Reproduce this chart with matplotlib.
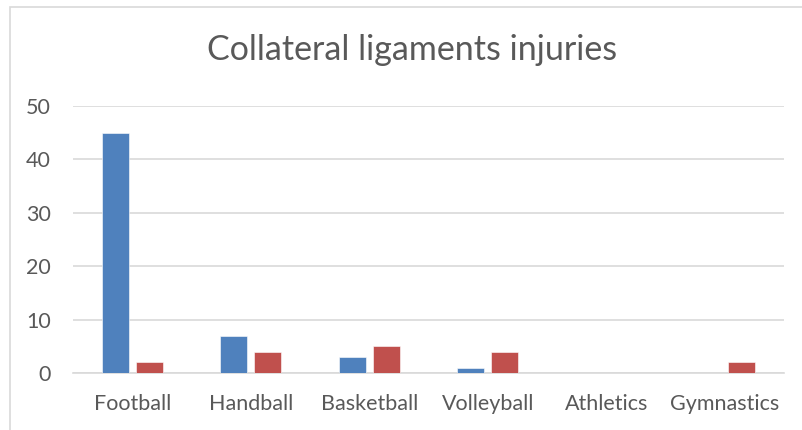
import matplotlib
matplotlib.use("Agg")
import matplotlib.pyplot as plt
from matplotlib.patches import Rectangle
import numpy as np

categories = ["Football", "Handball", "Basketball", "Volleyball", "Athletics", "Gymnastics"]
series_blue = [45, 7, 3, 1, 0, 0]
series_red = [2, 4, 5, 4, 0, 2]
y_ticks = [0, 10, 20, 30, 40, 50]
title = "Collateral ligaments injuries"

plt.rcParams['font.family'] = ['Lato', 'DejaVu Sans']
text_color = "#595959"
grid_color = "#D9D9D9"

W, H = 802, 430
fig = plt.figure(figsize=(W / 100, H / 100), dpi=100)
fig.patch.set_facecolor("white")

# chart frame (extends beyond image on right/bottom)
fig.patches.append(Rectangle((10 / W, -0.1), 1.2, 1 - 7 / H + 0.1, transform=fig.transFigure,
                             fill=False, edgecolor=grid_color, linewidth=1.2))

ax = fig.add_axes([73 / W, 1 - 373 / H, (784 - 73) / W, (373 - 106) / H])
x = np.arange(len(categories))
w = 0.228
off = 0.143
ax.bar(x - off, series_blue, width=w, color="#4F81BD", edgecolor="white", linewidth=0.4, zorder=3)
ax.bar(x + off, series_red, width=w, color="#C0504D", edgecolor="white", linewidth=0.4, zorder=3)

ax.set_xlim(-0.5, len(categories) - 0.5)
ax.set_ylim(0, 50)
ax.set_yticks(y_ticks)
ax.set_xticks(x)
ax.set_xticklabels(categories)
ax.yaxis.grid(True, color=grid_color, linewidth=1.2, zorder=0)
for s in ["top", "right", "left"]:
    ax.spines[s].set_visible(False)
ax.spines["bottom"].set_color(grid_color)
ax.spines["bottom"].set_linewidth(1.2)
ax.tick_params(axis="both", length=0, labelsize=15.5, colors=text_color)
ax.tick_params(axis="y", pad=16)
ax.tick_params(axis="x", pad=15)

fig.text(412 / W, 1 - 50 / H, title, ha="center", va="center",
         fontsize=24.5, color=text_color)

fig.savefig("out.png", dpi=100)
